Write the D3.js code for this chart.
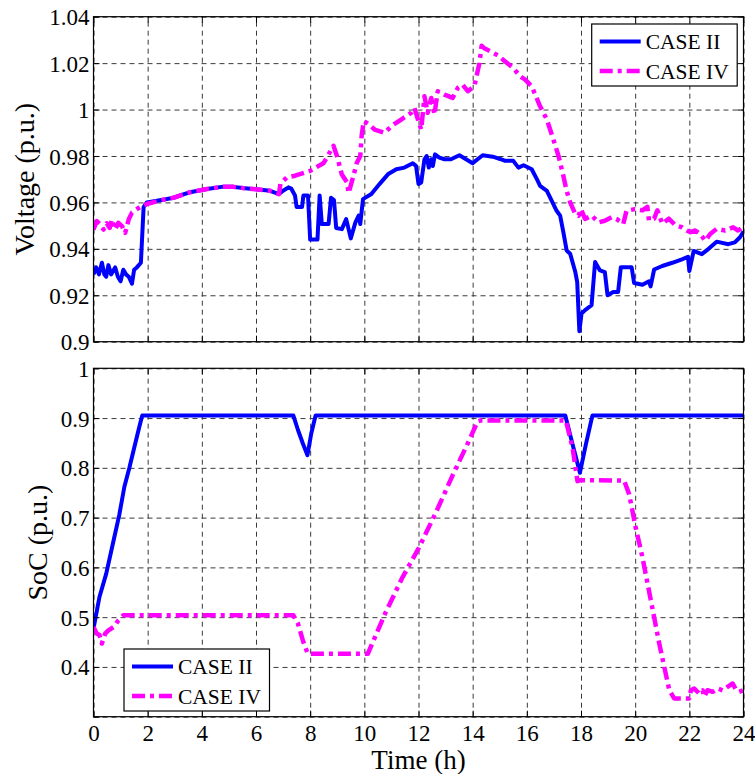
<!DOCTYPE html>
<html>
<head>
<meta charset="utf-8">
<script src="https://cdn.jsdelivr.net/npm/d3@7"></script>
<style>
  body { margin: 0; background: #fff; }
  text { font-family: "Liberation Serif", "Times New Roman", serif; fill: #000; }
</style>
</head>
<body>
<script>
// hours on x, shared by both panels
const hourTicks = [0, 2, 4, 6, 8, 10, 12, 14, 16, 18, 20, 22, 24]
const voltTicks = [0.9, 0.92, 0.94, 0.96, 0.98, 1, 1.02, 1.04]
const socTicks = [0.3, 0.4, 0.5, 0.6, 0.7, 0.8, 0.9, 1]
const seriesNames = ["CASE II", "CASE IV"]

// voltage, CASE II  [h, p.u.]
const voltCaseII = [[0,0.929],[0.1,0.932],[0.2,0.929],[0.31,0.934],[0.4,0.929],[0.47,0.928],[0.55,0.933],[0.65,0.929],
  [0.8,0.932],[0.9,0.928],[1.0,0.926],[1.1,0.931],[1.2,0.929],[1.3,0.928],[1.42,0.925],[1.5,0.931],[1.6,0.932],
  [1.75,0.934],[1.85,0.958],[1.97,0.960],[2.5,0.961],[2.95,0.962],[3.57,0.9644],[4.19,0.9658],[4.8,0.9668],
  [5.17,0.9667],[5.5,0.9662],[6.0,0.9657],[6.52,0.965],[6.85,0.9636],[7.0,0.965],[7.2,0.9665],[7.3,0.966],
  [7.44,0.963],[7.5,0.958],[7.7,0.958],[7.75,0.963],[7.92,0.963],[8.0,0.944],[8.27,0.944],[8.35,0.963],
  [8.43,0.9507],[8.68,0.9507],[8.77,0.962],[8.88,0.961],[8.96,0.949],[9.17,0.9485],[9.33,0.9528],[9.5,0.9445],
  [9.67,0.9514],[9.79,0.9543],[9.85,0.9507],[9.95,0.9614],[10.26,0.9636],[10.56,0.9679],[10.87,0.9721],
  [11.18,0.9743],[11.48,0.975],[11.79,0.9769],[11.91,0.9757],[12.0,0.9679],[12.1,0.9686],[12.22,0.9786],
  [12.3,0.98],[12.38,0.975],[12.47,0.9786],[12.53,0.9757],[12.61,0.9807],[12.77,0.9793],[12.96,0.9786],
  [13.2,0.9786],[13.51,0.9803],[14.0,0.9769],[14.37,0.9803],[14.74,0.9797],[15.04,0.9786],[15.2,0.9779],
  [15.5,0.9779],[15.69,0.975],[15.88,0.976],[16.18,0.9743],[16.37,0.97],[16.49,0.9671],[16.74,0.965],
  [16.92,0.9607],[17.1,0.9564],[17.23,0.9543],[17.35,0.9471],[17.47,0.9393],[17.6,0.9379],[17.79,0.93],
  [17.86,0.9257],[17.94,0.9045],[18.02,0.9121],[18.15,0.9136],[18.39,0.9157],[18.52,0.9343],[18.7,0.9307],
  [18.88,0.93],[18.98,0.92],[19.19,0.9214],[19.37,0.9214],[19.47,0.9321],[19.87,0.9321],[19.96,0.9253],
  [20.27,0.9245],[20.51,0.926],[20.57,0.9238],[20.7,0.9311],[21.0,0.9326],[21.37,0.934],[21.73,0.9355],
  [21.95,0.9366],[22.0,0.9304],[22.16,0.9391],[22.46,0.9377],[22.7,0.9399],[23.01,0.9431],[23.44,0.942],
  [23.68,0.9428],[23.87,0.945],[24,0.9475]]

// voltage, CASE IV
const voltCaseIV = [[0,0.9483],[0.12,0.952],[0.25,0.9505],[0.37,0.9483],[0.49,0.951],[0.6,0.949],[0.68,0.9527],
  [0.8,0.9483],[0.92,0.9512],[1.05,0.9498],[1.17,0.9469],[1.3,0.9527],[1.42,0.9556],[1.6,0.9571],[1.79,0.9585],
  [1.97,0.9593],[2.5,0.961],[2.95,0.962],[3.57,0.9644],[4.19,0.9658],[4.8,0.9668],[5.17,0.9667],[5.5,0.9662],
  [6.0,0.9657],[6.52,0.965],[6.85,0.9636],[6.9,0.968],[7.14,0.9708],[7.44,0.9715],[8.0,0.9736],[8.5,0.977],
  [8.86,0.9844],[8.99,0.98],[9.17,0.972],[9.36,0.9686],[9.42,0.964],[9.6,0.9715],[9.72,0.977],[9.85,0.98],
  [9.9,0.9887],[9.98,0.995],[10.16,0.9937],[10.38,0.9914],[10.75,0.99],[11.0,0.9929],[11.36,0.9957],
  [11.73,0.9986],[11.85,1.0007],[11.98,0.9957],[12.1,0.9914],[12.22,1.0057],[12.34,0.9986],[12.47,1.005],
  [12.59,0.9979],[12.71,1.0079],[12.96,1.0064],[13.26,1.005],[13.45,1.0093],[13.63,1.0107],[13.82,1.0079],
  [14.06,1.01],[14.25,1.02],[14.33,1.0275],[14.43,1.0264],[14.67,1.025],[14.96,1.0231],[15.2,1.0207],
  [15.5,1.0179],[15.75,1.0143],[15.94,1.0129],[16.18,1.01],[16.49,1.0014],[16.74,0.9957],[16.98,0.9871],
  [17.17,0.98],[17.35,0.9714],[17.47,0.965],[17.6,0.96],[17.79,0.955],[17.91,0.9543],[18.0,0.9571],
  [18.15,0.9529],[18.4,0.9543],[18.64,0.9514],[18.88,0.9521],[19.13,0.9536],[19.31,0.9529],[19.56,0.9507],
  [19.68,0.9564],[19.99,0.9571],[20.27,0.9566],[20.45,0.9581],[20.51,0.9523],[20.7,0.953],[20.82,0.9566],
  [21.0,0.9508],[21.24,0.953],[21.49,0.9501],[21.73,0.9493],[21.91,0.9479],[22.04,0.9472],[22.22,0.9479],
  [22.4,0.9464],[22.59,0.9435],[22.77,0.9464],[23.01,0.9486],[23.32,0.9479],[23.62,0.9493],[23.8,0.9479],
  [24,0.9495]]

// state of charge, CASE II
const socCaseII = [[0,0.477],[0.22,0.5405],[0.47,0.5875],[0.77,0.661],[0.95,0.705],[1.14,0.762],[1.32,0.799],
  [1.51,0.842],[1.69,0.882],[1.8,0.905],[7.38,0.905],[7.55,0.876],[7.73,0.849],[7.9,0.8255],[8.04,0.869],
  [8.2,0.905],[17.42,0.905],[17.69,0.847],[17.96,0.79],[18.18,0.847],[18.42,0.905],[24,0.905]]

// state of charge, CASE IV
const socCaseIV = [[0,0.48],[0.12,0.467],[0.22,0.464],[0.31,0.447],[0.43,0.467],[0.55,0.4735],[0.74,0.48],
  [0.92,0.4935],[1.1,0.5036],[7.38,0.5036],[7.55,0.487],[7.73,0.4533],[7.91,0.4265],[10.13,0.4265],
  [10.79,0.51],[11.41,0.58],[12.02,0.64],[12.64,0.71],[13.26,0.785],[13.87,0.855],[14.18,0.8933],[14.3,0.8953],
  [17.44,0.8953],[17.69,0.84],[17.87,0.7733],[17.95,0.775],[19.59,0.7747],[19.78,0.7467],[20.02,0.68],
  [20.27,0.62],[20.58,0.5333],[20.89,0.4467],[21.26,0.3533],[21.44,0.3367],[22.0,0.3367],[22.06,0.3533],
  [22.18,0.3567],[22.36,0.3467],[22.49,0.353],[22.55,0.34],[22.67,0.3533],[22.86,0.35],[23.04,0.3567],
  [23.23,0.353],[23.41,0.36],[23.6,0.3667],[23.72,0.355],[23.84,0.35],[24,0.3533]]

const width = 755
const height = 774
const left = 93.5, right = 743.5
const fmt = d3.format("~g")

const styles = [
  {color: "#0000ff", w: 4, dash: null},
  {color: "#ff00ff", w: 4.5, dash: "13,5,4,5"}
]

const svg = d3.select("body").append("svg")
    .attr("width", width)
    .attr("height", height)

const x = d3.scaleLinear().domain([0, 24]).range([left, right])

function panel(id, top, bottom, yDomain, yTicks, series, showX, legendPos, ylabel, ylabelX) {
  const y = d3.scaleLinear().domain(yDomain).range([bottom, top])
  const g = svg.append("g")

  // dashed grid
  g.append("g")
      .attr("transform", `translate(${left},0)`)
      .call(d3.axisLeft(y).tickValues(yTicks).tickSize(-(right - left)).tickFormat(""))
      .call(a => a.select(".domain").remove())
      .selectAll("line").attr("stroke", "#3a3a3a").attr("stroke-dasharray", "5,4")
  g.append("g")
      .attr("transform", `translate(0,${bottom})`)
      .call(d3.axisBottom(x).tickValues(hourTicks).tickSize(-(bottom - top)).tickFormat(""))
      .call(a => a.select(".domain").remove())
      .selectAll("line").attr("stroke", "#3a3a3a").attr("stroke-dasharray", "5,4")

  // curves
  const clipId = "clip" + id
  g.append("clipPath").attr("id", clipId)
    .append("rect").attr("x", left).attr("y", top).attr("width", right - left).attr("height", bottom - top)
  const line = d3.line().x(d => x(d[0])).y(d => y(d[1]))
  series.forEach((s, i) => {
    g.append("path")
        .datum(s)
        .attr("clip-path", `url(#${clipId})`)
        .attr("fill", "none")
        .attr("stroke", styles[i].color)
        .attr("stroke-width", styles[i].w)
        .attr("stroke-linejoin", "round")
        .attr("stroke-dasharray", styles[i].dash)
        .attr("d", line)
  })

  // inward ticks on all four sides, labels left and bottom
  const yl = g.append("g").attr("transform", `translate(${left},0)`)
      .call(d3.axisLeft(y).tickValues(yTicks)
        .tickSizeInner(-6).tickSizeOuter(0).tickPadding(5)
        .tickFormat(v => (showX && v === yDomain[0]) ? "" : fmt(v)))
  yl.selectAll("text").attr("font-size", 23).attr("dy", "0.35em").attr("x", -4)
  g.append("g").attr("transform", `translate(${right},0)`)
      .call(d3.axisRight(y).tickValues(yTicks).tickSizeInner(-6).tickSizeOuter(0).tickFormat(""))
  const xb = g.append("g").attr("transform", `translate(0,${bottom})`)
      .call(d3.axisBottom(x).tickValues(hourTicks).tickSizeInner(-6).tickSizeOuter(0)
        .tickFormat(showX ? fmt : ""))
  xb.selectAll("text").attr("font-size", 23).attr("dy", "0").attr("y", 24)
  g.append("g").attr("transform", `translate(0,${top})`)
      .call(d3.axisTop(x).tickValues(hourTicks).tickSizeInner(-6).tickSizeOuter(0).tickFormat(""))
  g.selectAll(".domain").remove()
  g.append("rect")
      .attr("x", left).attr("y", top).attr("width", right - left).attr("height", bottom - top)
      .attr("fill", "none").attr("stroke", "#000").attr("stroke-width", 1.2)

  // y label
  g.append("text")
      .attr("transform", `translate(${ylabelX},${(top + bottom) / 2}) rotate(-90)`)
      .attr("text-anchor", "middle")
      .attr("font-size", 28)
      .text(ylabel)

  // legend
  const lg = g.append("g").attr("transform", `translate(${legendPos[0]},${legendPos[1]})`)
  lg.append("rect").attr("width", 145.5).attr("height", 62)
      .attr("fill", "#fff").attr("stroke", "#000").attr("stroke-width", 1.2)
  seriesNames.forEach((name, i) => {
    const cy = 17.5 + i * 29.5
    lg.append("line")
        .attr("x1", 8).attr("x2", 49).attr("y1", cy).attr("y2", cy)
        .attr("stroke", styles[i].color).attr("stroke-width", styles[i].w)
        .attr("stroke-dasharray", styles[i].dash)
    lg.append("text")
        .attr("x", 54).attr("y", cy).attr("dy", "0.35em")
        .attr("font-size", 21.5)
        .text(name)
  })
  return y
}

panel("v", 16.7, 341.7, [0.9, 1.04], voltTicks, [voltCaseII, voltCaseIV], false,
  [591.7, 24], "Voltage (p.u.)", 34)
panel("s", 368.3, 716.7, [0.3, 1], socTicks, [socCaseII, socCaseIV], true,
  [124, 649], "SoC (p.u.)", 46.5)

svg.append("text")
    .attr("x", (left + right) / 2)
    .attr("y", 769)
    .attr("text-anchor", "middle")
    .attr("font-size", 27)
    .text("Time (h)")
</script>
</body>
</html>
